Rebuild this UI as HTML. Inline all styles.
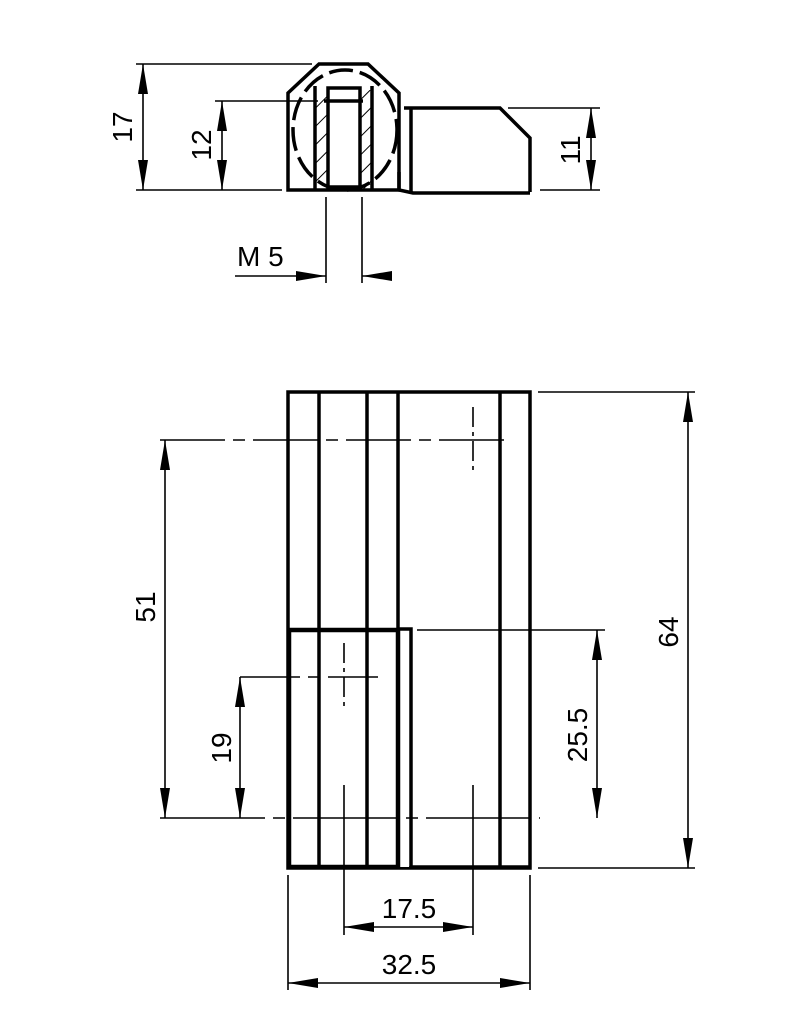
<!DOCTYPE html>
<html><head><style>body{margin:0;background:#fff}svg{display:block}</style></head><body>
<svg width="787" height="1035" viewBox="0 0 787 1035" xmlns="http://www.w3.org/2000/svg" font-family="Liberation Sans, sans-serif" font-size="28">
<defs>
<marker id="a" viewBox="0 0 30 10" refX="30" refY="5" markerWidth="30" markerHeight="10" markerUnits="userSpaceOnUse" orient="auto-start-reverse"><path d="M0,0L30,5L0,10z" fill="#000"/></marker>
<pattern id="h" width="13" height="13" patternUnits="userSpaceOnUse" patternTransform="rotate(45)"><line x1="0" y1="0" x2="0" y2="13" stroke="#000" stroke-width="2"/></pattern>
</defs>
<g stroke="#000" fill="none">
<!-- top view -->
<rect x="315" y="90" width="13" height="99" fill="url(#h)" stroke="none"/>
<rect x="360" y="90" width="12" height="99" fill="url(#h)" stroke="none"/>
<path d="M288,190 L288,93 L319,64 L368,64 L399,93 L399,190 Z" stroke-width="3.5"/>
<path d="M399,172 L399,190 L413,193 L530,193" stroke-width="3.5"/>
<path d="M404,108 L500,108 L530,138 L530,192" stroke-width="3.5"/>
<line x1="411" y1="108" x2="411" y2="192" stroke-width="3.5"/>
<line x1="315" y1="86" x2="315" y2="190" stroke-width="3.5"/>
<line x1="372" y1="86" x2="372" y2="190" stroke-width="3.5"/>
<rect x="328" y="88" width="32" height="99" stroke-width="3.5"/>
<line x1="324" y1="101" x2="363" y2="101" stroke-width="3.5"/>
<ellipse cx="345" cy="130" rx="52" ry="60" stroke-width="3.5" stroke-dasharray="24,7"/>
<g stroke-width="1.6">
<line x1="136" y1="64" x2="312" y2="64"/>
<line x1="136" y1="190" x2="282" y2="190"/>
<line x1="215" y1="101" x2="318" y2="101"/>
<line x1="143" y1="64" x2="143" y2="190" marker-start="url(#a)" marker-end="url(#a)"/>
<line x1="222" y1="101" x2="222" y2="190" marker-start="url(#a)" marker-end="url(#a)"/>
<line x1="508" y1="108" x2="600" y2="108"/>
<line x1="540" y1="190" x2="600" y2="190"/>
<line x1="591" y1="108" x2="591" y2="190" marker-start="url(#a)" marker-end="url(#a)"/>
<line x1="326" y1="197" x2="326" y2="283"/>
<line x1="362" y1="197" x2="362" y2="283"/>
<line x1="235" y1="276" x2="326" y2="276" marker-end="url(#a)"/>
<line x1="385" y1="276" x2="362" y2="276" marker-end="url(#a)"/>
</g>
<!-- front view -->
<rect x="288" y="392" width="242" height="476" stroke-width="3.5"/>
<g stroke-width="3.5">
<line x1="319" y1="392" x2="319" y2="868"/>
<line x1="367" y1="392" x2="367" y2="868"/>
<line x1="398" y1="392" x2="398" y2="630"/>
<line x1="500" y1="392" x2="500" y2="868"/>
</g>
<rect x="399" y="631" width="10" height="236" fill="#fff" stroke="none"/>
<rect x="289" y="630" width="109" height="237" stroke-width="4.5"/>
<path d="M398,629 L411,629 L411,867 L530,867" stroke-width="3.5"/>
<g stroke-width="1.6">
<line x1="160" y1="440" x2="510" y2="440" stroke-dasharray="65,8,12,8"/>
<line x1="473" y1="407" x2="473" y2="475" stroke-dasharray="20,5,4,5"/>
<line x1="240" y1="677" x2="378" y2="677" stroke-dasharray="60,8,12,8"/>
<line x1="344" y1="643" x2="344" y2="710" stroke-dasharray="20,5,4,5"/>
<line x1="160" y1="818" x2="540" y2="818" stroke-dasharray="105,8,12,8"/>
<line x1="344" y1="785" x2="344" y2="935"/>
<line x1="473" y1="785" x2="473" y2="935"/>
<line x1="417" y1="630" x2="605" y2="630"/>
<line x1="538" y1="392" x2="695" y2="392"/>
<line x1="538" y1="868" x2="695" y2="868"/>
<line x1="165" y1="440" x2="165" y2="818" marker-start="url(#a)" marker-end="url(#a)"/>
<line x1="240" y1="677" x2="240" y2="818" marker-start="url(#a)" marker-end="url(#a)"/>
<line x1="597" y1="630" x2="597" y2="818" marker-start="url(#a)" marker-end="url(#a)"/>
<line x1="688" y1="392" x2="688" y2="868" marker-start="url(#a)" marker-end="url(#a)"/>
<line x1="288" y1="875" x2="288" y2="990"/>
<line x1="530" y1="875" x2="530" y2="990"/>
<line x1="344" y1="927" x2="473" y2="927" marker-start="url(#a)" marker-end="url(#a)"/>
<line x1="288" y1="983" x2="530" y2="983" marker-start="url(#a)" marker-end="url(#a)"/>
</g>
</g>
<g fill="#000">
<text transform="translate(132,127) rotate(-90)" text-anchor="middle">17</text>
<text transform="translate(211,145) rotate(-90)" text-anchor="middle">12</text>
<text transform="translate(580,150) rotate(-90)" text-anchor="middle">11</text>
<text x="237" y="266">M 5</text>
<text transform="translate(155,607) rotate(-90)" text-anchor="middle">51</text>
<text transform="translate(231,748) rotate(-90)" text-anchor="middle">19</text>
<text transform="translate(587,735) rotate(-90)" text-anchor="middle">25.5</text>
<text transform="translate(678,632) rotate(-90)" text-anchor="middle">64</text>
<text x="409" y="918" text-anchor="middle">17.5</text>
<text x="409" y="974" text-anchor="middle">32.5</text>
</g>
</svg>
</body></html>
